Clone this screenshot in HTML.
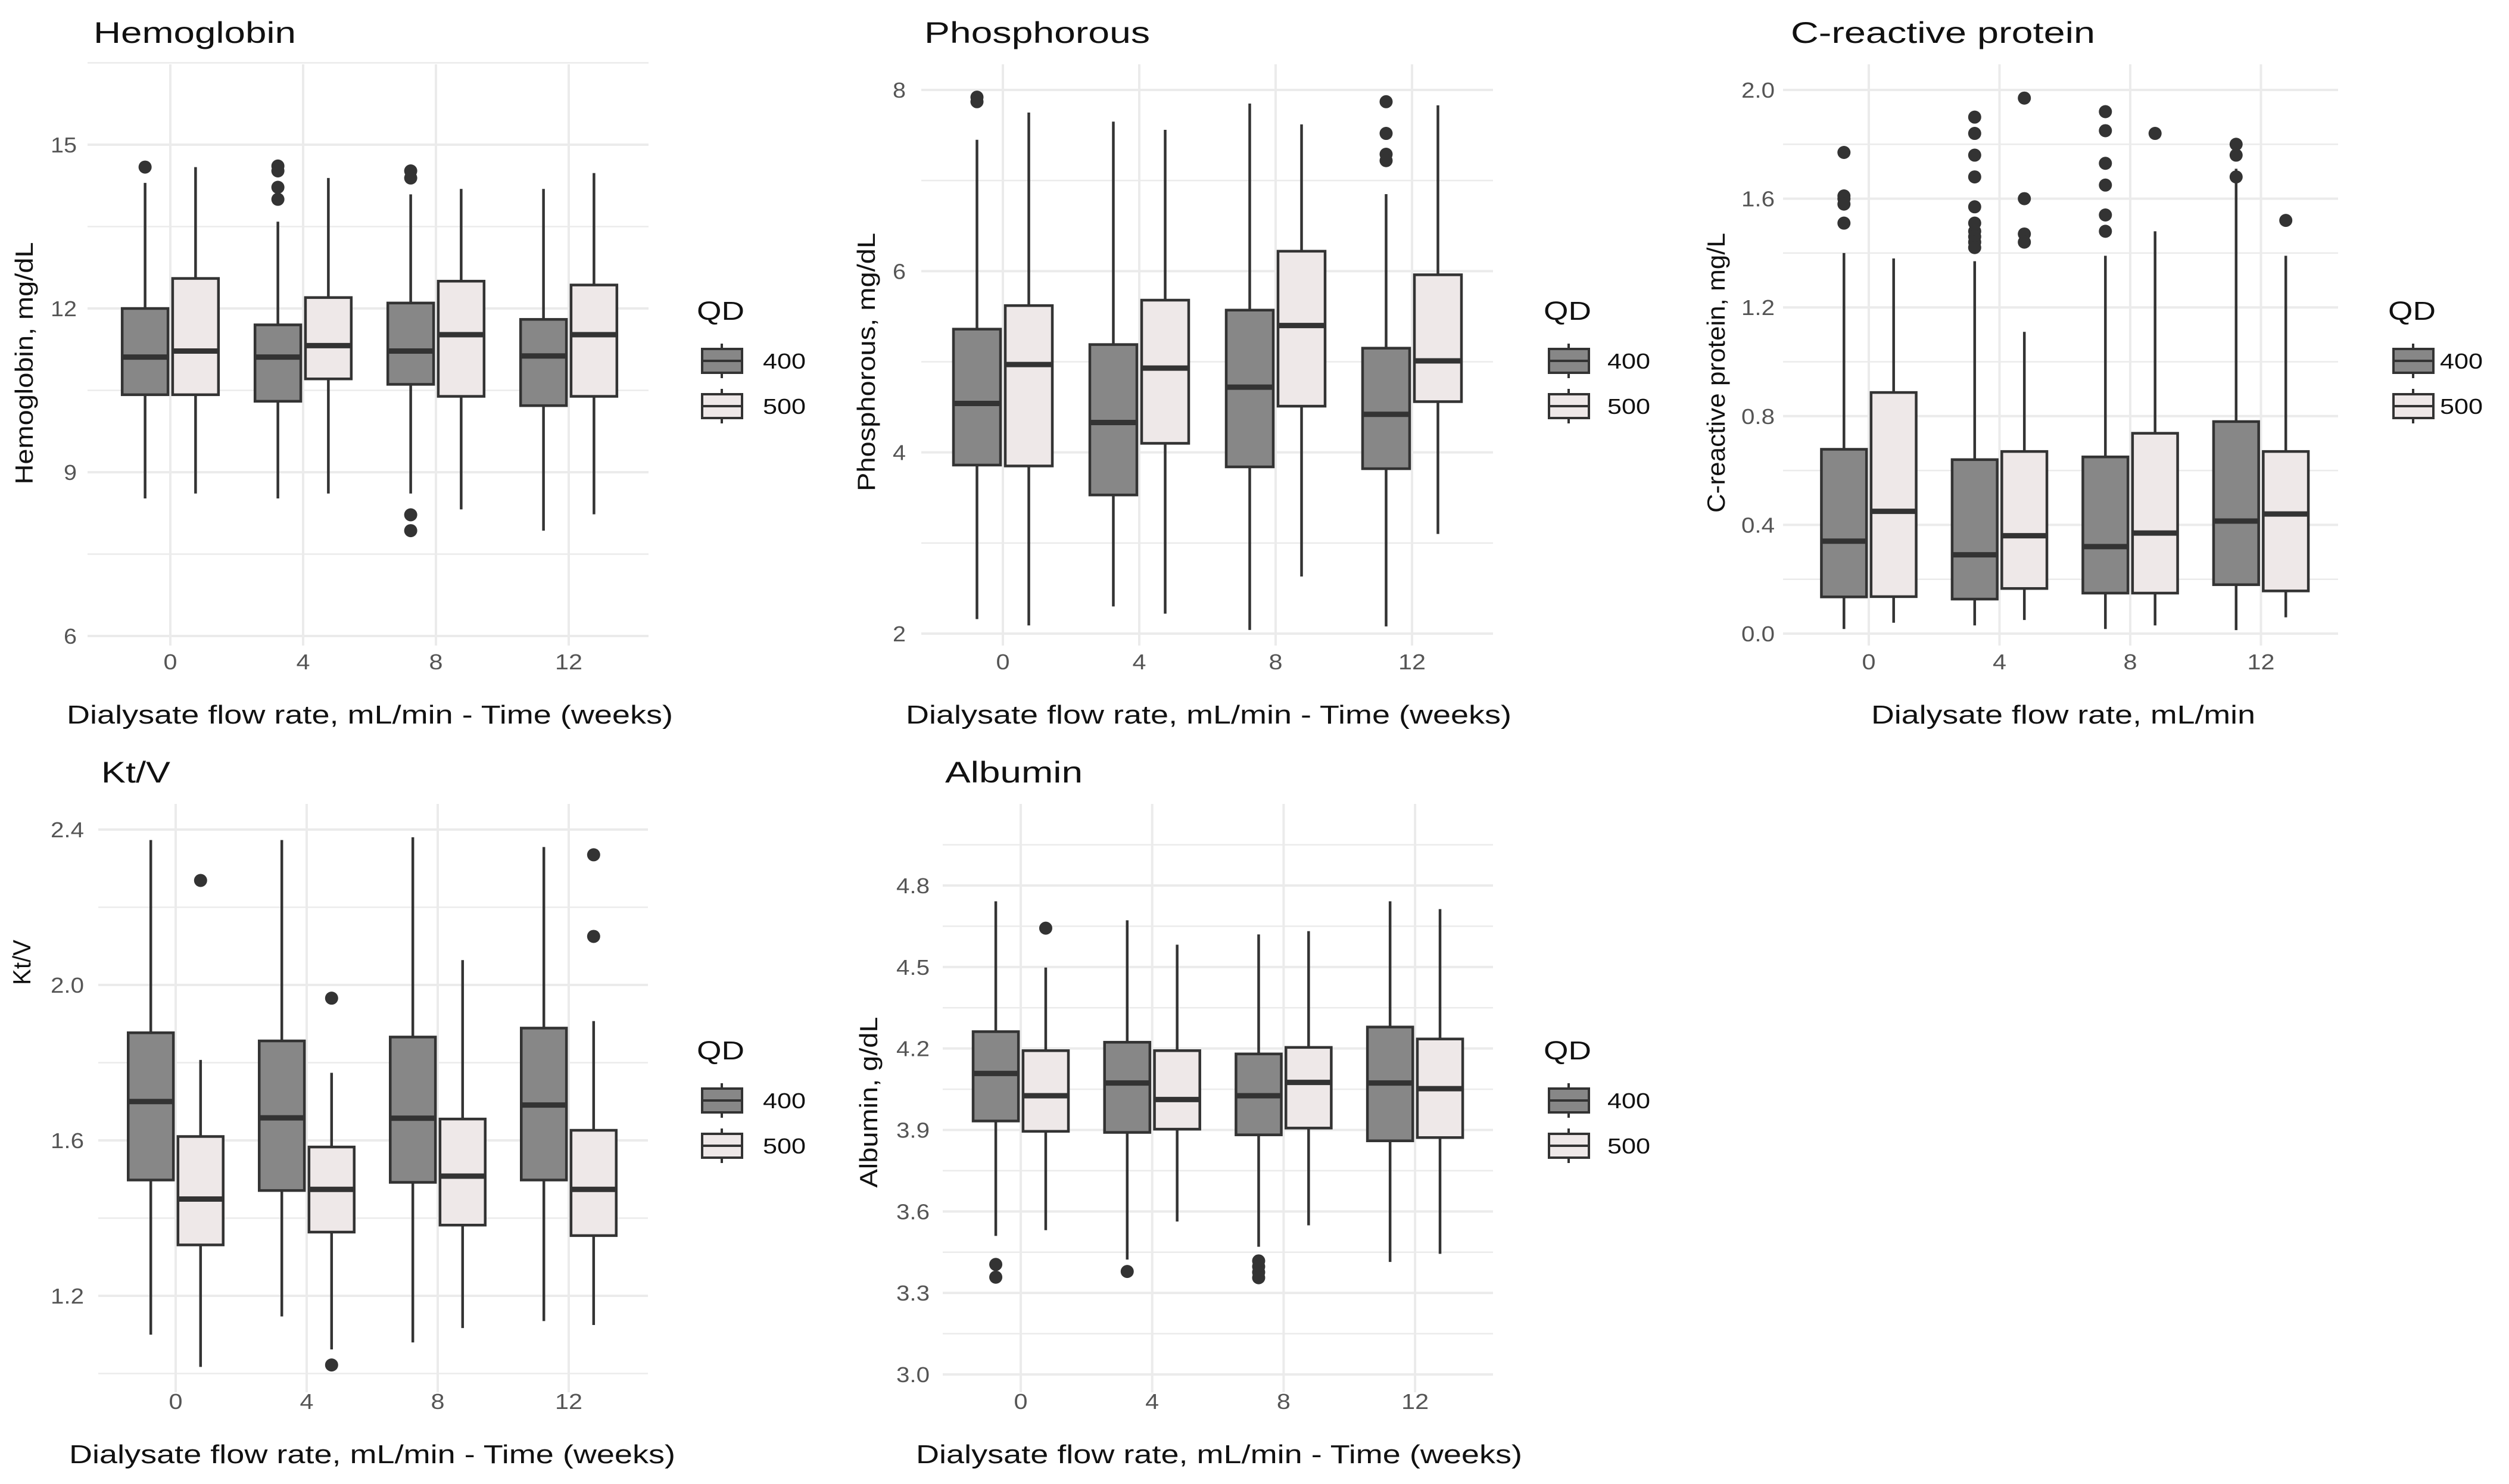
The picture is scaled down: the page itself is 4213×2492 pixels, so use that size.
<!DOCTYPE html>
<html><head><meta charset="utf-8"><style>
html,body{margin:0;padding:0;background:#fff;}
svg{display:block;font-family:"Liberation Sans",Arial,sans-serif;}
</style></head><body>
<svg id="chart" xmlns="http://www.w3.org/2000/svg" width="4213" height="2492" viewBox="0 0 4213 2492"></svg>
<script>
// ---- data: [lower whisker, Q1, median, Q3, upper whisker] per week ----
const weeks = ["0","4","8","12"];
const hemoQ400 = [[8.52,10.42,11.11,12.0,14.30],[8.52,10.30,11.11,11.70,13.59],[8.61,10.61,11.22,12.10,14.09],[7.93,10.22,11.13,11.80,14.19]];
const hemoQ500 = [[8.61,10.42,11.22,12.55,14.59],[8.61,10.71,11.32,12.20,14.39],[8.32,10.39,11.52,12.50,14.19],[8.23,10.39,11.52,12.43,14.48]];
const hemoOut400 = [[14.59],[14.61,14.52,14.22,14.0],[14.52,14.39,8.22,7.93],[]];
const hemoOut500 = [[],[],[],[]];
const hemoTicks = [6,9,12,15];
const hemoMinor = [7.5,10.5,13.5,16.5];

const phosQ400 = [[2.16,3.86,4.54,5.36,7.45],[2.30,3.53,4.33,5.19,7.65],[2.04,3.84,4.72,5.57,7.85],[2.08,3.82,4.42,5.15,6.85]];
const phosQ500 = [[2.09,3.85,4.97,5.62,7.75],[2.22,4.10,4.93,5.68,7.56],[2.63,4.51,5.40,6.22,7.62],[3.10,4.56,5.01,5.96,7.83]];
const phosOut400 = [[7.92,7.87],[],[],[7.87,7.52,7.29,7.22]];
const phosOut500 = [[],[],[],[]];
const phosTicks = [2,4,6,8];
const phosMinor = [3,5,7];

const crpQ400 = [[0.017,0.135,0.34,0.678,1.40],[0.03,0.127,0.29,0.64,1.37],[0.017,0.149,0.32,0.65,1.39],[0.013,0.18,0.414,0.78,1.71]];
const crpQ500 = [[0.04,0.136,0.45,0.887,1.38],[0.05,0.166,0.36,0.67,1.11],[0.03,0.149,0.37,0.737,1.48],[0.06,0.157,0.44,0.67,1.39]];
const crpOut400 = [[1.77,1.61,1.60,1.58,1.51],[1.90,1.84,1.76,1.68,1.57,1.51,1.48,1.46,1.44,1.42],[1.92,1.85,1.73,1.65,1.54,1.48],[1.80,1.76,1.68]];
const crpOut500 = [[],[1.97,1.60,1.47,1.44],[1.84],[1.52]];
const crpTicks = [0.0,0.4,0.8,1.2,1.6,2.0];
const crpMinor = [0.2,0.6,1.0,1.4,1.8];

const ktvQ400 = [[1.10,1.498,1.70,1.877,2.373],[1.147,1.471,1.658,1.856,2.373],[1.08,1.492,1.657,1.866,2.38],[1.135,1.498,1.691,1.889,2.355]];
const ktvQ500 = [[1.017,1.331,1.449,1.61,1.807],[1.062,1.364,1.474,1.583,1.774],[1.117,1.382,1.508,1.655,2.064],[1.125,1.355,1.474,1.626,1.907]];
const ktvOut400 = [[],[],[],[]];
const ktvOut500 = [[2.269],[1.966,1.022],[],[2.335,2.125]];
const ktvTicks = [1.2,1.6,2.0,2.4];
const ktvMinor = [1.0,1.4,1.8,2.2];

const albQ400 = [[3.51,3.933,4.108,4.262,4.742],[3.423,3.891,4.073,4.223,4.672],[3.47,3.882,4.026,4.18,4.62],[3.414,3.86,4.073,4.279,4.742]];
const albQ500 = [[3.531,3.895,4.026,4.192,4.498],[3.563,3.903,4.012,4.192,4.582],[3.549,3.907,4.075,4.204,4.632],[3.444,3.872,4.052,4.235,4.713]];
const albOut400 = [[3.405,3.358],[3.379],[3.418,3.397,3.376,3.356],[]];
const albOut500 = [[4.643],[],[],[]];
const albTicks = [3.0,3.3,3.6,3.9,4.2,4.5,4.8];
const albMinor = [3.15,3.45,3.75,4.05,4.35,4.65,4.95];

const legendLabels = ["400","500"];

// ---- layout ----
const NS = "http://www.w3.org/2000/svg";
const svg = document.getElementById("chart");
const DARK = "#878787", LIGHT = "#eee8e8", INK = "#333333", GRID = "#ebebeb";

function mk(tag, attrs, parent){
  const e = document.createElementNS(NS, tag);
  for (const k in attrs) e.setAttribute(k, attrs[k]);
  (parent || svg).appendChild(e);
  return e;
}
function fit(t, w){
  t.setAttribute("textLength", w);
  t.setAttribute("lengthAdjust", "spacingAndGlyphs");
}
function fmt(v, dec){ return v.toFixed(dec); }

const panels = [
  {key:"hemoglobin", title:"Hemoglobin", titleX:157, titleW:340, ytitle:"Hemoglobin, mg/dL", ytx:40, ytc:610, ytl:407,
   xtitle:"Dialysate flow rate, mL/min - Time (weeks)", xtx:112, xtw:1018,
   cx0:286, step:223, gx0:147, gx1:1089, gy0:108, gy1:1084, v1:15, y1:243, v2:6, y2:1068, tickR:129, dec:0,
   q4:hemoQ400, q5:hemoQ500, o4:hemoOut400, o5:hemoOut500, ticks:hemoTicks, minor:hemoMinor, legX:1170, legLab:1281, row:0},
  {key:"phosphorous", title:"Phosphorous", titleX:1552, titleW:379, ytitle:"Phosphorous, mg/dL", ytx:1454, ytc:608, ytl:434,
   xtitle:"Dialysate flow rate, mL/min - Time (weeks)", xtx:1521, xtw:1017,
   cx0:1684, step:229, gx0:1547, gx1:2507, gy0:108, gy1:1084, v1:8, y1:151, v2:2, y2:1064, tickR:1521, dec:0,
   q4:phosQ400, q5:phosQ500, o4:phosOut400, o5:phosOut500, ticks:phosTicks, minor:phosMinor, legX:2592, legLab:2699, row:0},
  {key:"c-reactive-protein", title:"C-reactive protein", titleX:3007, titleW:511, ytitle:"C-reactive protein, mg/L", ytx:2881, ytc:626, ytl:470,
   xtitle:"Dialysate flow rate, mL/min", xtx:3142, xtw:645,
   cx0:3138, step:219.5, gx0:2994, gx1:3926, gy0:108, gy1:1084, v1:2.0, y1:151, v2:0, y2:1064, tickR:2980, dec:1,
   q4:crpQ400, q5:crpQ500, o4:crpOut400, o5:crpOut500, ticks:crpTicks, minor:crpMinor, legX:4010, legLab:4097, row:0},
  {key:"kt-v", title:"Kt/V", titleX:170, titleW:116, ytitle:"Kt/V", ytx:36, ytc:1616, ytl:76,
   xtitle:"Dialysate flow rate, mL/min - Time (weeks)", xtx:116, xtw:1018,
   cx0:295, step:220, gx0:165, gx1:1088, gy0:1350, gy1:2338, v1:2.4, y1:1393, v2:1.2, y2:2176, tickR:141, dec:1,
   q4:ktvQ400, q5:ktvQ500, o4:ktvOut400, o5:ktvOut500, ticks:ktvTicks, minor:ktvMinor, legX:1170, legLab:1281, row:1},
  {key:"albumin", title:"Albumin", titleX:1587, titleW:231, ytitle:"Albumin, g/dL", ytx:1458, ytc:1851, ytl:287,
   xtitle:"Dialysate flow rate, mL/min - Time (weeks)", xtx:1538, xtw:1018,
   cx0:1714, step:220.7, gx0:1583, gx1:2507, gy0:1350, gy1:2338, v1:4.8, y1:1487, v2:3.0, y2:2308, tickR:1561, dec:1,
   q4:albQ400, q5:albQ500, o4:albOut400, o5:albOut500, ticks:albTicks, minor:albMinor, legX:2592, legLab:2699, row:1}
];

function drawPanel(p){
  const g = mk("g", {});
  
  
  const yS = v => p.y1 + (v - p.v1) * (p.y2 - p.y1) / (p.v2 - p.v1);
  const xS = i => p.cx0 + i * p.step;
  const off = p.step * 0.19, bw = p.step * 0.345;
  const rowOff = p.row ? 1242 : 0;

  p.minor.forEach(v => {
    const y = yS(v);
    if (y < p.gy0 - 5 || y > p.gy1 + 5) return;
    const l = mk("line", {x1:p.gx0, x2:p.gx1, y1:y, y2:y, stroke:GRID, "stroke-width":2.5}, g);
    
    
  });
  p.ticks.forEach(v => {
    const y = yS(v);
    const l = mk("line", {x1:p.gx0, x2:p.gx1, y1:y, y2:y, stroke:GRID, "stroke-width":4}, g);
    
    
    const t = mk("text", {x:p.tickR, y:y + 13, "text-anchor":"end", "font-size":36, fill:"#555"}, g);
    t.textContent = fmt(v, p.dec);
    
    
    fit(t, t.textContent.length * 22 - (p.dec ? 10 : 0));
  });
  weeks.forEach((w, i) => {
    const x = xS(i);
    const l = mk("line", {x1:x, x2:x, y1:p.gy0, y2:p.gy1, stroke:GRID, "stroke-width":4}, g);
    
    
    const t = mk("text", {x:x, y:1124 + rowOff, "text-anchor":"middle", "font-size":36, fill:"#555"}, g);
    t.textContent = w;
    
    
    fit(t, w.length * 23);
  });

  [[p.q4, p.o4, DARK, -off, "400"], [p.q5, p.o5, LIGHT, off, "500"]].forEach(([Q, O, fill, dx, lab]) => {
    Q.forEach((s, i) => {
      const cx = xS(i) + dx;
      const bg = mk("g", {}, g);
      
      
      const wl = mk("line", {x1:cx, x2:cx, y1:yS(s[4]), y2:yS(s[3]), stroke:INK, "stroke-width":4.5}, bg);
      
      
      const wl2 = mk("line", {x1:cx, x2:cx, y1:yS(s[1]), y2:yS(s[0]), stroke:INK, "stroke-width":4.5}, bg);
      
      
      const r = mk("rect", {x:cx - bw/2, y:yS(s[3]), width:bw, height:yS(s[1]) - yS(s[3]), fill:fill, stroke:INK, "stroke-width":4.5}, bg);
      
      
      const m = mk("line", {x1:cx - bw/2, x2:cx + bw/2, y1:yS(s[2]), y2:yS(s[2]), stroke:INK, "stroke-width":9}, bg);
      
      
      O[i].forEach(v => {
        const c = mk("circle", {cx:cx, cy:yS(v), r:11, fill:INK}, bg);
        
        
      });
    });
  });

  const tt = mk("text", {x:p.titleX, y:72 + rowOff, "font-size":50, fill:"#111"}, g);
  tt.textContent = p.title;
  
  
  fit(tt, p.titleW);
  const yt = mk("text", {x:0, y:0, "text-anchor":"middle", "font-size":42, fill:"#111",
    transform:"translate(" + (p.ytx + 15) + "," + p.ytc + ") rotate(-90)"}, g);
  yt.textContent = p.ytitle;
  
  
  fit(yt, p.ytl);
  const xt = mk("text", {x:p.xtx, y:1215 + rowOff, "font-size":44, fill:"#111"}, g);
  xt.textContent = p.xtitle;
  
  
  fit(xt, p.xtw);

  const lg = mk("g", {}, g);
  
  
  const qd = mk("text", {x:p.legX, y:537 + rowOff, "font-size":44, fill:"#111"}, lg);
  qd.textContent = "QD";
  
  
  fit(qd, 80);
  const kx = p.legX + 9;
  [[DARK, 586], [LIGHT, 662]].forEach(([f, ky], j) => {
    const eg = mk("g", {}, lg);
    
    
    const y0 = ky + rowOff;
    const wl = mk("line", {x1:kx + 33, x2:kx + 33, y1:y0 - 9, y2:y0 + 49, stroke:INK, "stroke-width":4}, eg);
    
    
    const r = mk("rect", {x:kx, y:y0, width:67, height:40, fill:f, stroke:INK, "stroke-width":4}, eg);
    
    
    const m = mk("line", {x1:kx, x2:kx + 67, y1:y0 + 20, y2:y0 + 20, stroke:INK, "stroke-width":4}, eg);
    
    
    const t = mk("text", {x:p.legLab, y:y0 + 33, "font-size":36, fill:"#111"}, eg);
    t.textContent = legendLabels[j];
    
    
    fit(t, 72);
  });
}
panels.forEach(drawPanel);
</script>
</body></html>
